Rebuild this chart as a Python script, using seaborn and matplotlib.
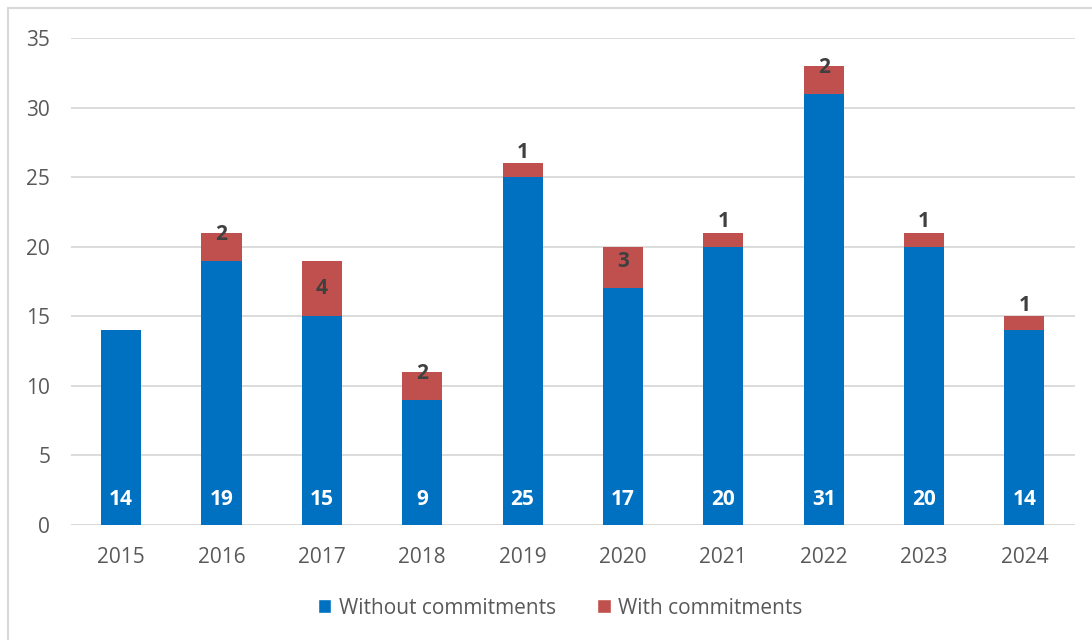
import matplotlib
matplotlib.use("Agg")
import matplotlib.pyplot as plt
from matplotlib.patches import Patch, Rectangle
import seaborn as sns
import pandas as pd

years = ["2015", "2016", "2017", "2018", "2019", "2020", "2021", "2022", "2023", "2024"]
without_commitments = [14, 19, 15, 9, 25, 17, 20, 31, 20, 14]
with_commitments = [0, 2, 4, 2, 1, 3, 1, 2, 1, 1]

BLUE = "#0070C0"
RED = "#C0504D"
GRID = "#D9D9D9"
TICK = "#595959"
LABEL_DARK = "#404040"

sns.set_theme(style="white")
plt.rcParams["font.family"] = ["Open Sans", "DejaVu Sans"]

df = pd.DataFrame({
    "year": years,
    "without": without_commitments,
    "with": with_commitments,
})
df["total"] = df["without"] + df["with"]

fig = plt.figure(figsize=(10.92, 6.40), dpi=100)
ax = fig.add_axes([0.065, 0.1797, 0.919, 0.7609])

# stacked look: totals in red underneath, base series in blue on top
sns.barplot(data=df, x="year", y="total", color=RED, width=0.4,
            saturation=1, linewidth=0, ax=ax, zorder=2)
sns.barplot(data=df, x="year", y="without", color=BLUE, width=0.4,
            saturation=1, linewidth=0, ax=ax, zorder=3)

ax.set_ylim(0, 35)
ax.set_xlim(-0.5, len(years) - 0.5)
ax.set_yticks(range(0, 36, 5))
ax.yaxis.grid(True, color=GRID, linewidth=1.3, zorder=0)
ax.set_axisbelow(True)
for s in ax.spines.values():
    s.set_visible(False)
ax.axhline(0, color=GRID, linewidth=1.3, zorder=1)
ax.set_xlabel("")
ax.set_ylabel("")
ax.tick_params(axis="both", length=0, labelsize=15, labelcolor=TICK)
ax.tick_params(axis="y", pad=15)
ax.tick_params(axis="x", pad=16)

# value labels
for i, (b, w) in enumerate(zip(without_commitments, with_commitments)):
    ax.annotate(str(b), (i, 0), xytext=(0, 18), textcoords="offset points",
                ha="center", va="center", color="white", fontsize=15,
                fontweight="bold", zorder=5)
    if w > 0:
        lift = max(0, 4 - w) * 6 * 0.72
        ax.annotate(str(w), (i, b + w / 2), xytext=(0, lift),
                    textcoords="offset points", ha="center", va="center",
                    color=LABEL_DARK, fontsize=15, fontweight="bold", zorder=5)

handles = [Patch(facecolor=BLUE, label="Without commitments"),
           Patch(facecolor=RED, label="With commitments")]
fig.legend(handles=handles, loc="center", bbox_to_anchor=(0.513, 0.05),
           ncol=2, frameon=False, fontsize=15, handlelength=0.65,
           handleheight=0.65, handletextpad=0.35, columnspacing=2.0,
           labelcolor=TICK)

# thin frame around the chart area
fig.patches.append(Rectangle((8 / 1092, -0.05), 1.2, (640 - 8) / 640 + 0.05,
                             transform=fig.transFigure, fill=False,
                             edgecolor=GRID, linewidth=1.5, zorder=0))

fig.savefig("out.png", dpi=100)
